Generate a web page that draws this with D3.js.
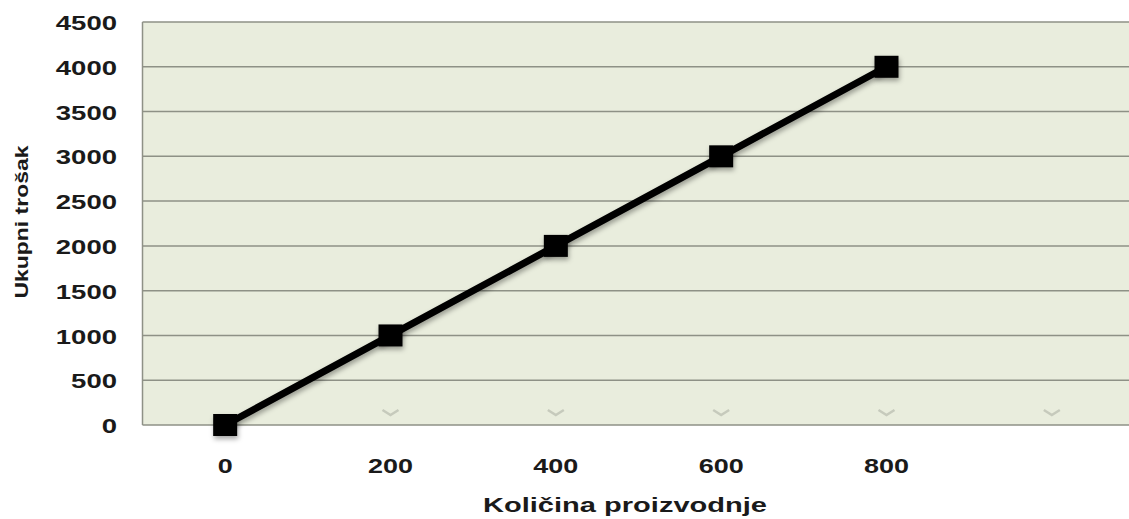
<!DOCTYPE html>
<html><head><meta charset="utf-8">
<script src="https://cdn.jsdelivr.net/npm/d3@7"></script>
<style>
body{margin:0;background:#fff;}
svg{display:block;}
</style></head>
<body>
<svg id="chart" width="1129" height="519"></svg>
<script>
const categories = ["0","200","400","600","800",""];
const quantities = [0,200,400,600,800];
const totalCost = [0,1000,2000,3000,4000];
const yTicks = [0,500,1000,1500,2000,2500,3000,3500,4000,4500];
const xTitle = "Količina proizvodnje";
const yTitle = "Ukupni trošak";

const svg = d3.select("#chart");
const pLeft = 142.5, pRight = 1134.5, pTop = 22, pBottom = 425;
const FONT = "Liberation Sans, Arial, sans-serif";

const x = d3.scaleBand().domain(categories).range([pLeft, pRight]).padding(0);
const y = d3.scaleLinear().domain([0,4500]).range([pBottom, pTop]);
const cx = c => x(c) + x.bandwidth()/2;

const defs = svg.append("defs");
const f = defs.append("filter").attr("id","sh").attr("x","-50%").attr("y","-50%").attr("width","200%").attr("height","200%");
f.append("feDropShadow").attr("dx",1).attr("dy",3).attr("stdDeviation",2.5).attr("flood-color","#000").attr("flood-opacity",0.35);

svg.append("rect").attr("x",pLeft).attr("y",pTop).attr("width",1129-pLeft).attr("height",pBottom-pTop).attr("fill","#e9eddd");

// gridlines
svg.append("g").selectAll("line").data(yTicks).join("line")
  .attr("x1",pLeft).attr("x2",1129).attr("y1",d=>y(d)).attr("y2",d=>y(d))
  .attr("stroke","#8e9186").attr("stroke-width",1.5);
svg.append("line").attr("x1",pLeft).attr("x2",pLeft).attr("y1",pTop).attr("y2",pBottom)
  .attr("stroke","#8e9186").attr("stroke-width",1.5);

// chevron tick marks
svg.append("g").selectAll("path").data(categories.slice(1)).join("path")
  .attr("d",c=>`M${cx(c)-8},${410} L${cx(c)},${415} L${cx(c)+8},${410}`)
  .attr("fill","none").attr("stroke","#c6cabc").attr("stroke-width",2.5);

// y axis labels
const yAxis = d3.axisLeft(y).tickValues(yTicks).tickFormat(d3.format("d")).tickSize(0).tickPadding(0);
const gy = svg.append("g").attr("transform","translate(117,0)").call(yAxis);
gy.select(".domain").remove();
gy.selectAll("text").attr("font-family",FONT).attr("font-weight","bold")
  .attr("font-size","21px").attr("fill","#1a1a1a").attr("dy","0.36em")
  .attr("textLength",d=>String(d).length*15.3).attr("lengthAdjust","spacingAndGlyphs");

// x axis labels
const xAxis = d3.axisBottom(x).tickSize(0).tickPadding(0);
const gx = svg.append("g").attr("transform","translate(0,465)").call(xAxis);
gx.select(".domain").remove();
gx.selectAll("text").attr("font-family",FONT).attr("font-weight","bold")
  .attr("font-size","21px").attr("fill","#1a1a1a").attr("dy","0.36em")
  .attr("textLength",d=>Math.max(1,String(d).length*15)).attr("lengthAdjust","spacingAndGlyphs");

// titles
svg.append("text").attr("x",625).attr("y",512).attr("text-anchor","middle")
  .attr("font-family",FONT).attr("font-weight","bold")
  .attr("font-size","21px").attr("fill","#1a1a1a")
  .attr("textLength",284).attr("lengthAdjust","spacingAndGlyphs").text(xTitle);
svg.append("text").attr("transform","translate(28,222) rotate(-90)").attr("text-anchor","middle")
  .attr("font-family",FONT).attr("font-weight","bold")
  .attr("font-size","19px").attr("fill","#1a1a1a")
  .attr("textLength",153).attr("lengthAdjust","spacingAndGlyphs").text(yTitle);

// line
const pts = quantities.map((q,i)=>({c:String(q), v:totalCost[i]}));
svg.append("path").datum(pts)
  .attr("d", d3.line().x(d=>cx(d.c)).y(d=>y(d.v)))
  .attr("fill","none").attr("stroke","#000").attr("stroke-width",7).attr("filter","url(#sh)");

svg.append("g").selectAll("rect").data(pts).join("rect")
  .attr("x",d=>cx(d.c)-12).attr("y",d=>y(d.v)-11).attr("width",24).attr("height",22)
  .attr("fill","#000").attr("filter","url(#sh)");
</script>
</body></html>
